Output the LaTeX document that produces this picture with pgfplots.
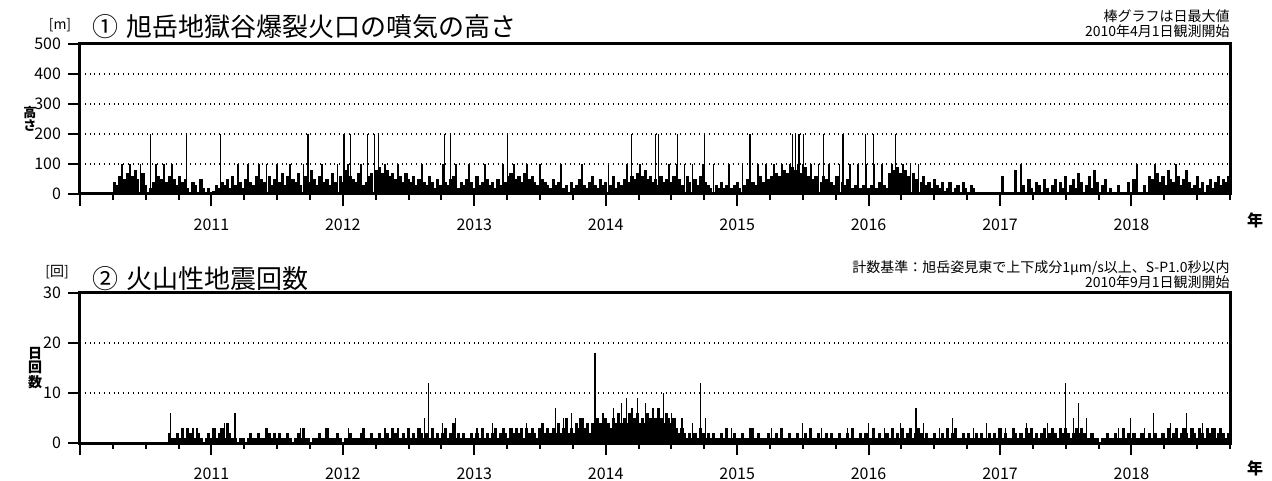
\documentclass[border=0pt]{standalone}
\usepackage{fontspec}
\setmainfont{Noto Sans CJK JP}
\usepackage{pgfplots}
\usepackage{pgfplotstable}
\pgfplotsset{compat=1.18}
% x unit u = 0.02 year from 2010-01-01
\pgfplotstableread[row sep=\\]{u y\\
13 40\\14 30\\15 60\\16 100\\17 50\\18 70\\19 100\\20 60\\21 80\\22 50\\
23 100\\24 70\\25 30\\26 0\\27 20\\28 40\\29 100\\30 60\\31 50\\32 100\\
33 40\\34 60\\35 100\\36 50\\37 30\\38 60\\39 40\\40 50\\41 20\\42 0\\
43 40\\44 30\\45 0\\46 50\\47 20\\48 0\\49 20\\50 0\\51 10\\52 30\\
53 20\\54 40\\55 30\\56 50\\57 20\\58 60\\59 30\\60 100\\61 40\\62 20\\
63 50\\64 100\\65 40\\66 30\\67 60\\68 100\\69 50\\70 40\\71 100\\72 60\\
73 30\\74 50\\75 100\\76 40\\77 70\\78 30\\79 60\\80 100\\81 50\\82 40\\
83 70\\84 30\\85 100\\86 60\\87 40\\88 80\\89 50\\90 30\\91 60\\92 100\\
93 40\\94 50\\95 30\\96 70\\97 40\\98 100\\99 60\\100 40\\101 80\\102 100\\
103 60\\104 50\\105 40\\106 70\\107 100\\108 30\\109 40\\110 60\\111 70\\112 100\\
113 80\\114 90\\115 70\\116 100\\117 80\\118 60\\119 70\\120 50\\121 100\\122 60\\
123 40\\124 70\\125 50\\126 40\\127 60\\128 30\\129 50\\130 100\\131 40\\132 30\\
133 60\\134 40\\135 20\\136 50\\137 30\\138 100\\139 40\\140 30\\141 50\\142 60\\
143 100\\144 20\\145 40\\146 30\\147 50\\148 100\\149 40\\150 20\\151 60\\152 30\\
153 40\\154 100\\155 50\\156 30\\157 40\\158 20\\159 50\\160 30\\161 100\\162 40\\
163 60\\164 70\\165 100\\166 50\\167 60\\168 40\\169 70\\170 100\\171 50\\172 60\\
173 40\\174 30\\175 100\\176 50\\177 40\\178 30\\179 20\\180 50\\181 30\\182 40\\
183 100\\184 20\\185 30\\186 0\\187 40\\188 20\\189 30\\190 50\\191 100\\192 30\\
193 20\\194 40\\195 60\\196 30\\197 20\\198 50\\199 30\\200 40\\201 100\\202 30\\
203 60\\204 20\\205 40\\206 30\\207 50\\208 100\\209 40\\210 60\\211 50\\212 70\\
213 100\\214 60\\215 80\\216 50\\217 60\\218 40\\219 50\\220 30\\221 60\\222 40\\
223 50\\224 100\\225 40\\226 60\\227 100\\228 50\\229 30\\230 100\\231 60\\232 40\\
233 100\\234 50\\235 30\\236 60\\237 100\\238 40\\239 30\\240 20\\241 100\\242 30\\
243 20\\244 40\\245 20\\246 30\\247 100\\248 20\\249 30\\250 40\\251 20\\252 100\\
253 30\\254 50\\255 100\\256 40\\257 30\\258 100\\259 60\\260 40\\261 100\\262 50\\
263 60\\264 100\\265 70\\266 60\\267 100\\268 80\\269 70\\270 100\\271 90\\272 80\\
273 100\\274 70\\275 100\\276 90\\277 60\\278 100\\279 50\\280 60\\281 100\\282 40\\
283 60\\284 50\\285 100\\286 40\\287 30\\288 60\\289 100\\290 40\\291 30\\292 50\\
293 100\\294 20\\295 30\\296 100\\297 20\\298 30\\299 100\\300 20\\301 30\\302 100\\
303 20\\304 40\\305 100\\306 30\\307 20\\308 70\\309 100\\310 80\\311 90\\312 70\\
313 100\\314 80\\315 60\\316 100\\317 70\\318 50\\319 100\\320 40\\321 60\\322 30\\
323 40\\324 20\\325 50\\326 30\\327 20\\328 40\\329 10\\330 20\\331 40\\332 0\\
333 20\\334 30\\335 0\\336 40\\337 20\\338 0\\339 30\\340 20\\341 0\\342 0\\
351 60\\356 80\\358 100\\359 30\\361 50\\362 20\\364 40\\365 30\\367 50\\368 20\\
370 30\\371 50\\373 40\\374 20\\375 60\\377 30\\378 50\\379 20\\380 70\\381 40\\
383 30\\384 60\\385 20\\386 80\\387 40\\389 30\\390 50\\392 20\\395 30\\399 40\\
401 50\\402 100\\405 30\\407 60\\408 50\\409 100\\410 70\\411 40\\412 60\\413 30\\
414 80\\415 50\\416 40\\417 100\\418 60\\419 30\\420 50\\421 80\\422 40\\423 20\\
424 30\\425 60\\426 20\\427 40\\429 30\\430 50\\431 20\\432 40\\433 60\\434 30\\
435 50\\436 40\\437 60\\
}\toptab
\pgfplotstableread[row sep=\\]{u y\\
26.8 200\\40.5 200\\53.5 200\\86.7 200\\100.4 200\\103 200\\109.3 200\\112 200\\113.7 200\\
138.8 200\\141 200\\162.7 200\\209.9 200\\218.9 200\\220 200\\227.4 200\\237.7 200\\
254.9 200\\271 200\\272.2 200\\273.5 200\\275.3 200\\282.8 200\\290.3 200\\298.9 200\\
302 200\\310.1 200\\
}\topspk
\pgfplotstableread[row sep=\\]{u y\\
34 2\\35 1\\36 1\\37 2\\38 1\\39 3\\40 1\\41 3\\42 2\\43 1\\44 1\\45 2\\46 1\\47 0\\48 1\\49 2\\
50 1\\51 3\\52 1\\53 2\\54 3\\55 1\\56 4\\57 2\\58 1\\59 1\\60 0\\61 1\\62 1\\63 0\\64 1\\65 2\\
66 1\\67 1\\68 2\\69 1\\70 1\\71 3\\72 2\\73 1\\74 2\\75 1\\76 2\\77 1\\78 1\\79 2\\80 1\\81 0\\
82 1\\83 2\\84 1\\85 3\\86 1\\87 1\\88 0\\89 1\\90 1\\91 2\\92 1\\93 1\\94 3\\95 1\\96 1\\97 1\\
98 2\\99 1\\100 0\\101 1\\102 1\\103 2\\104 1\\105 1\\106 1\\107 2\\108 3\\109 1\\110 1\\111 2\\
112 1\\113 1\\114 2\\115 1\\116 1\\117 2\\118 1\\119 3\\120 2\\121 1\\122 1\\123 2\\124 1\\125 3\\
126 1\\127 2\\128 1\\129 3\\130 2\\131 1\\132 2\\133 1\\134 3\\135 1\\136 2\\137 1\\138 2\\139 3\\
140 1\\141 2\\142 4\\143 1\\144 2\\145 1\\146 2\\147 1\\148 1\\149 2\\150 1\\151 2\\152 1\\153 3\\
154 1\\155 2\\156 1\\157 2\\158 3\\159 1\\160 2\\161 3\\162 2\\163 1\\164 3\\165 2\\166 3\\167 2\\
168 3\\169 1\\170 3\\171 2\\172 3\\173 2\\174 1\\175 3\\176 4\\177 2\\178 3\\179 2\\180 3\\181 2\\
182 4\\183 2\\184 3\\185 5\\186 2\\187 3\\188 2\\189 4\\190 3\\191 5\\192 3\\193 4\\194 2\\195 4\\
196 3\\197 5\\198 4\\199 3\\200 5\\201 4\\202 3\\203 5\\204 4\\205 6\\206 4\\207 5\\208 4\\209 6\\
210 4\\211 5\\212 6\\213 4\\214 5\\215 4\\216 6\\217 5\\218 4\\219 5\\220 7\\221 5\\222 4\\223 6\\
224 5\\225 4\\226 5\\227 3\\228 2\\229 3\\230 2\\231 1\\232 2\\233 1\\234 2\\235 1\\236 3\\237 2\\
238 1\\239 2\\240 1\\241 2\\242 1\\243 1\\244 2\\245 1\\246 3\\247 1\\248 1\\249 2\\250 1\\251 1\\
252 2\\253 1\\254 1\\255 3\\256 1\\257 1\\258 2\\259 1\\260 1\\261 1\\262 2\\263 1\\264 1\\265 2\\
266 1\\267 3\\268 1\\269 1\\270 2\\271 1\\272 1\\273 2\\274 1\\275 1\\276 2\\277 1\\278 3\\279 1\\
280 1\\281 2\\282 1\\283 1\\284 2\\285 1\\286 2\\287 1\\288 1\\289 2\\290 1\\291 1\\292 2\\293 1\\
294 3\\295 1\\296 1\\297 2\\298 1\\299 2\\300 1\\301 1\\302 3\\303 1\\304 2\\305 1\\306 1\\307 2\\
308 1\\309 3\\310 1\\311 2\\312 1\\313 3\\314 1\\315 2\\316 3\\317 1\\318 2\\319 3\\320 2\\321 1\\
322 2\\323 1\\324 1\\325 2\\326 1\\327 1\\328 2\\329 1\\330 3\\331 1\\332 2\\333 3\\334 1\\335 1\\
336 2\\337 1\\338 2\\339 1\\340 1\\341 2\\342 1\\343 2\\344 1\\345 1\\346 2\\347 1\\348 2\\349 1\\
350 3\\351 1\\352 2\\353 1\\354 1\\355 3\\356 2\\357 1\\358 2\\359 1\\360 3\\361 2\\362 3\\363 1\\
364 2\\365 1\\366 2\\367 3\\368 1\\369 2\\370 3\\371 2\\372 1\\373 3\\374 2\\375 3\\376 2\\377 1\\
378 2\\379 3\\380 2\\381 3\\382 2\\383 1\\384 1\\385 2\\386 1\\387 1\\388 0\\389 1\\390 1\\391 2\\
392 1\\393 1\\394 2\\395 1\\396 1\\397 3\\398 1\\399 2\\400 1\\401 2\\402 1\\403 1\\404 2\\405 1\\
406 1\\407 2\\408 1\\409 2\\410 1\\411 1\\412 2\\413 1\\414 3\\415 1\\416 2\\417 3\\418 1\\419 2\\
420 3\\421 2\\422 1\\423 3\\424 2\\425 1\\426 3\\427 2\\428 1\\429 3\\430 2\\431 3\\432 1\\433 2\\
434 3\\435 2\\436 1\\437 2\\
}\bottab
\pgfplotstableread[row sep=\\]{u y\\
34.3 6\\41 3\\43 3\\44.5 3\\55 4\\56.5 3\\59 6\\84 3\\102 3\\116 3\\121 3\\131 5\\132.5 12\\
138 4\\143 5\\151 3\\157 4\\166 3\\170 4\\176 4\\181 7\\184 5\\187 6\\190 5\\195.9 18\\199 6\\
203 7\\206 8\\208 9\\210 7\\212 9\\215 8\\218 7\\222 10\\225 6\\229 5\\233 4\\236 12\\238 5\\
248 3\\256 3\\263 3\\275 4\\282 3\\292 3\\300 4\\306 3\\312 4\\318 7\\321 4\\327 3\\332 5\\
340 3\\345 4\\352 3\\360 4\\368 4\\375 12\\378 5\\380 8\\383 5\\395 3\\399.5 5\\405 3\\
408.5 6\\415 4\\421 6\\427 4\\432 3\\
}\botspk
\pgfplotsset{myax/.style={
  scale only axis, width=575pt, height=75pt,
  xmin=0, xmax=437.5, ymin=0,
  axis line style={line width=1.5pt, black},
  tick style={line width=1pt, black},
  major tick length=6pt, minor tick length=3pt,
  tick align=outside,
  xtick pos=left, ytick pos=left,
  xtick={0,50,...,400},
  xticklabels={,2011,2012,2013,2014,2015,2016,2017,2018},
  minor xtick={0,12.5,...,437.5},
  ymajorgrids, grid style={black, dotted, line width=0.6pt},
  tick label style={font=\fontsize{8}{9}\selectfont},
  /pgf/number format/assume math mode=true,
  xticklabel style={yshift=-3pt},
  clip=true,
}}
\begin{document}
\begin{tikzpicture}
\useasboundingbox (-40pt,-19pt) rectangle (596pt,221.5pt);
\begin{axis}[myax, at={(0,124.5pt)}, anchor=south west,
  ymax=500, ytick={0,100,...,500}]
\addplot[ycomb, black, line width=1.6pt, restrict y to domain=0:95] table[x=u,y=y]{\toptab};
\addplot[ycomb, black, line width=0.8pt, restrict y to domain=95:110] table[x=u,y=y]{\toptab};
\addplot[ycomb, black, line width=0.6pt] table[x=u,y=y]{\topspk};
\end{axis}
\begin{axis}[myax, at={(0,0)}, anchor=south west,
  ymax=30, ytick={0,10,20,30}]
\addplot[ycomb, black, line width=1.6pt] table[x=u,y=y]{\bottab};
\addplot[ycomb, black, line width=0.6pt] table[x=u,y=y]{\botspk};
\end{axis}
% top panel texts
\node[anchor=west, inner sep=0, font=\fontsize{13}{15}\selectfont] at (6pt,208pt) {①\hspace{4pt}旭岳地獄谷爆裂火口の噴気の高さ};
\node[anchor=east, inner sep=0, font=\fontsize{7}{8}\selectfont] at (575pt,213.5pt) {棒グラフは日最大値};
\node[anchor=east, inner sep=0, font=\fontsize{7}{8}\selectfont] at (575pt,206pt) {2010年4月1日観測開始};
\node[inner sep=0, font=\fontsize{7}{8}\selectfont] at (-10pt,209pt) {[m]};
\node[inner sep=0, align=center, font=\fontsize{6.5}{6.8}\selectfont\bfseries] at (-25pt,162pt) {高\\さ};
\node[inner sep=0, font=\fontsize{8}{9}\selectfont\bfseries] at (587.5pt,111.5pt) {年};
% bottom panel texts
\node[anchor=west, inner sep=0, font=\fontsize{13}{15}\selectfont] at (6pt,82pt) {②\hspace{4pt}火山性地震回数};
\node[anchor=east, inner sep=0, font=\fontsize{7}{8}\selectfont] at (575pt,87.5pt) {計数基準：旭岳姿見東で上下成分1μm/s以上、S-P1.0秒以内};
\node[anchor=east, inner sep=0, font=\fontsize{7}{8}\selectfont] at (575pt,80.5pt) {2010年9月1日観測開始};
\node[inner sep=0, font=\fontsize{7}{8}\selectfont] at (-11.5pt,85.5pt) {[回]};
\node[inner sep=0, align=center, font=\fontsize{7}{7.2}\selectfont\bfseries] at (-22.5pt,37.5pt) {日\\回\\数};
\node[inner sep=0, font=\fontsize{8}{9}\selectfont\bfseries] at (587.5pt,-12.5pt) {年};
\end{tikzpicture}
\end{document}
